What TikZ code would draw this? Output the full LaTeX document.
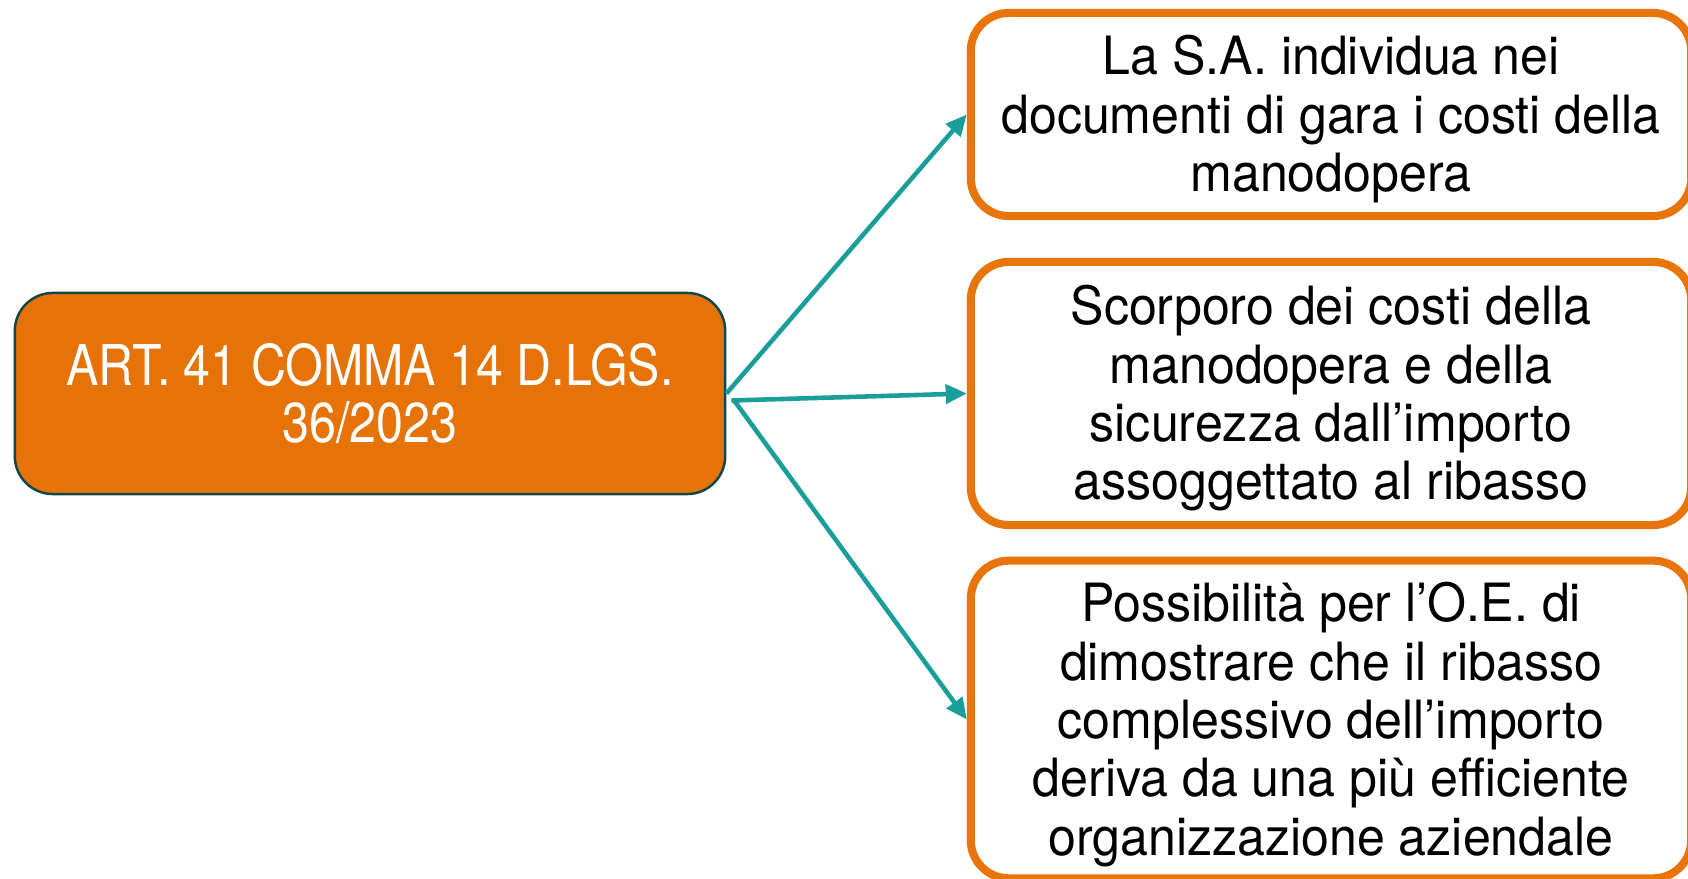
\documentclass[tikz,border=0pt]{standalone}
\usepackage{fontspec}
\usepackage{tikz}
\usetikzlibrary{arrows.meta}

\newfontfamily\artfont[FakeStretch=0.86]{TeX Gyre Heros}
\newfontfamily\boxfont[FakeStretch=0.95]{TeX Gyre Heros}
\newcommand\lift{\rule{0pt}{14pt}}

\definecolor{artorange}{HTML}{E67308}
\definecolor{artborder}{HTML}{12474A}
\definecolor{boxorange}{HTML}{E8740C}
\definecolor{arrowteal}{HTML}{1A9E9A}

\begin{document}
\begin{tikzpicture}[x=0.01cm, y=-0.01cm,
            artbox/.style={draw=artborder, line width=0.7pt, fill=artorange,
                rounded corners=0.38cm, text=white, align=center,
                minimum width=7.10cm, minimum height=2.01cm,
                font=\artfont\fontsize{16}{16.2}\selectfont},
            infobox/.style={draw=boxorange, line width=2.3pt, fill=white,
                rounded corners=0.38cm, align=center, minimum width=7.20cm,
                font=\boxfont\fontsize{15}{16.6}\selectfont},
            link/.style={draw=arrowteal, line width=1.3pt,
                -{Triangle[length=6pt, width=5.4pt]}}]
        \useasboundingbox (0,0) rectangle (1688,879);

        \node[artbox] (art) at (370,393.5) {ART. 41 COMMA 14 D.LGS.\\36/2023};

        \node[infobox, minimum height=2.03cm] (costi) at (1331,114.5)
            {\lift La S.A. individua nei\\documenti di gara i costi della\\manodopera};
        \node[infobox, minimum height=2.63cm] (scorporo) at (1331,393.5)
            {\lift Scorporo dei costi della\\manodopera e della\\sicurezza dall’importo\\assoggettato al ribasso};
        \node[infobox, minimum height=3.13cm] (ribasso) at (1331,719.5)
            {\lift Possibilità per l’O.E. di\\dimostrare che il ribasso\\complessivo dell’importo\\deriva da una più efficiente\\organizzazione aziendale};

        \draw[link] (art.east) -- (costi.west);
        \draw[link] ([shift={(5,7)}]art.east) -- (scorporo.west);
        \draw[link] ([shift={(7,6)}]art.east) -- (ribasso.west);
    \end{tikzpicture}
\end{document}
